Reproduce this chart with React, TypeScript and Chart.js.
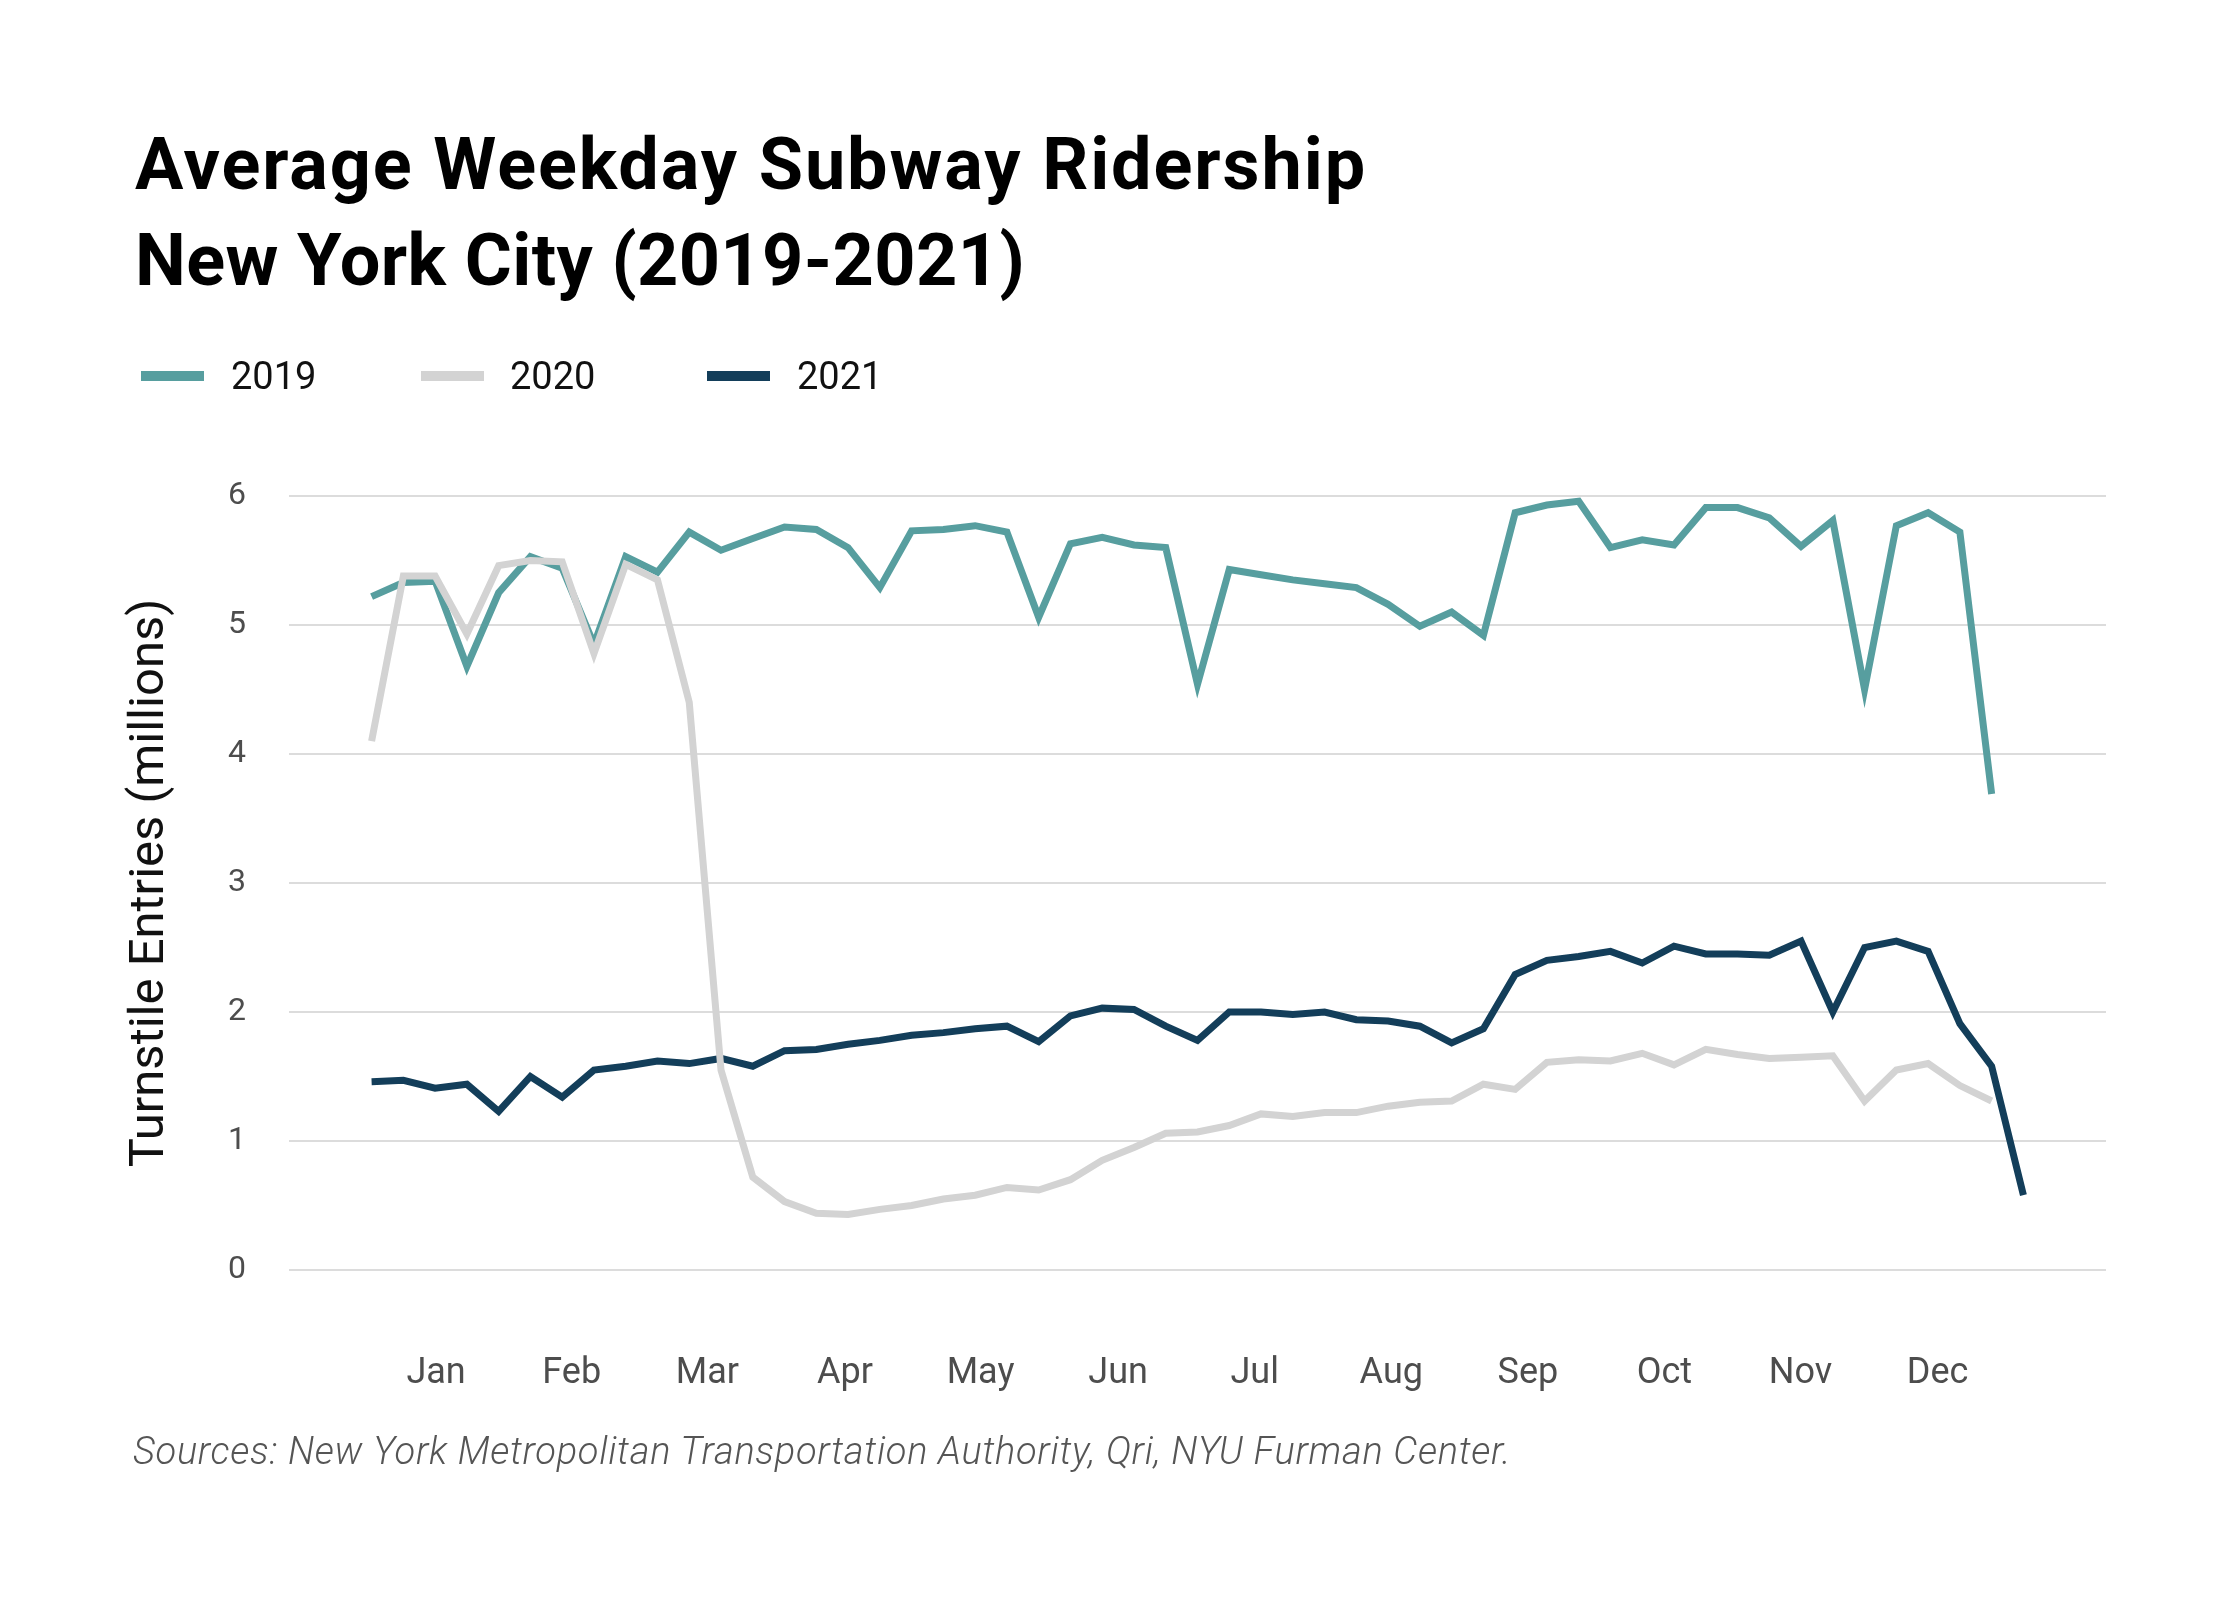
import React, { useEffect, useRef } from "react";
import { Chart, registerables } from "chart.js";

Chart.register(...registerables);

// ---- data (weekly average weekday subway ridership, millions) ----
const seriesNames = ["2019", "2020", "2021"];
const seriesColors = ["#579E9F", "#D3D3D3", "#133E5A"];

const ridership2019 = [
  5.22, 5.33, 5.34, 4.68, 5.25, 5.53, 5.44, 4.85, 5.53, 5.41,
  5.72, 5.58, 5.67, 5.76, 5.74, 5.60, 5.29, 5.73, 5.74, 5.77,
  5.72, 5.06, 5.63, 5.68, 5.62, 5.60, 4.54, 5.43, 5.39, 5.35,
  5.32, 5.29, 5.16, 4.99, 5.10, 4.92, 5.87, 5.93, 5.96, 5.60,
  5.66, 5.62, 5.91, 5.91, 5.83, 5.61, 5.81, 4.50, 5.77, 5.87,
  5.72, 3.69,
];

const ridership2020 = [
  4.10, 5.38, 5.38, 4.93, 5.46, 5.50, 5.49, 4.78, 5.47, 5.35,
  4.40, 1.55, 0.72, 0.53, 0.44, 0.43, 0.47, 0.50, 0.55, 0.58,
  0.64, 0.62, 0.70, 0.85, 0.95, 1.06, 1.07, 1.12, 1.21, 1.19,
  1.22, 1.22, 1.27, 1.30, 1.31, 1.44, 1.40, 1.61, 1.63, 1.62,
  1.68, 1.59, 1.71, 1.67, 1.64, 1.65, 1.66, 1.31, 1.55, 1.60,
  1.43, 1.31,
];

const ridership2021 = [
  1.46, 1.47, 1.41, 1.44, 1.23, 1.50, 1.34, 1.55, 1.58, 1.62,
  1.60, 1.64, 1.58, 1.70, 1.71, 1.75, 1.78, 1.82, 1.84, 1.87,
  1.89, 1.77, 1.97, 2.03, 2.02, 1.89, 1.78, 2.00, 2.00, 1.98,
  2.00, 1.94, 1.93, 1.89, 1.76, 1.87, 2.29, 2.40, 2.43, 2.47,
  2.38, 2.51, 2.45, 2.45, 2.44, 2.55, 2.00, 2.50, 2.55, 2.47,
  1.91, 1.58, 0.58,
];

const monthLabels = ["Jan", "Feb", "Mar", "Apr", "May", "Jun", "Jul", "Aug", "Sep", "Oct", "Nov", "Dec"];
// month label positions, in week-of-year units
const monthTickWeeks = [3.03, 7.3, 11.57, 15.9, 20.17, 24.5, 28.8, 33.1, 37.4, 41.7, 45.98, 50.3];
const yTickValues = [0, 1, 2, 3, 4, 5, 6];

const titleLines = ["Average Weekday Subway Ridership", "New York City (2019-2021)"];
const yAxisTitle = "Turnstile Entries (millions)";
const sourceText = "Sources: New York Metropolitan Transportation Authority, Qri, NYU Furman Center.";

const toPoints = (vals: number[]) => vals.map((v, i) => ({ x: i + 1, y: v }));

const W = 2240;
const H = 1600;

export default function App() {
  const canvasRef = useRef<HTMLCanvasElement | null>(null);

  useEffect(() => {
    const canvas = canvasRef.current;
    if (!canvas) return;
    const allSeries = [ridership2019, ridership2020, ridership2021];
    const drawOrder = [1, 0, 2];
    const chart = new Chart(canvas, {
      type: "line",
      data: {
        datasets: allSeries.map((vals, i) => ({
          label: seriesNames[i],
          data: toPoints(vals),
          borderColor: seriesColors[i],
          backgroundColor: seriesColors[i],
          borderWidth: 7,
          pointRadius: 0,
          tension: 0,
          fill: false,
          order: drawOrder[i],
        })),
      },
      options: {
        animation: false,
        responsive: false,
        maintainAspectRatio: false,
        devicePixelRatio: 1,
        layout: { padding: { top: 496, right: 134, bottom: 0, left: 0 } },
        plugins: {
          legend: { display: false },
          tooltip: { enabled: false },
          title: { display: false },
        },
        scales: {
          x: {
            type: "linear",
            min: -1.6,
            max: 55.6,
            afterBuildTicks: (scale: any) => {
              scale.ticks = monthTickWeeks.map((v) => ({ value: v }));
            },
            afterFit: (scale: any) => {
              scale.height = 330;
            },
            grid: { display: false, drawTicks: false },
            border: { display: false },
            ticks: {
              autoSkip: false,
              maxRotation: 0,
              padding: 82,
              color: "#4d4d4d",
              font: { family: "Roboto", size: 36 },
              callback: (_v: any, i: number) => monthLabels[i],
            },
          },
          y: {
            type: "linear",
            min: 0,
            max: 6,
            afterBuildTicks: (scale: any) => {
              scale.ticks = yTickValues.map((v) => ({ value: v }));
            },
            afterFit: (scale: any) => {
              scale.width = 289;
            },
            grid: { color: "#dcdcdc", lineWidth: 2, drawTicks: false },
            border: { display: false },
            ticks: {
              padding: 43,
              color: "#4d4d4d",
              font: { family: "Roboto", size: 32 },
              callback: (v: any) => String(v),
            },
            title: {
              display: true,
              text: yAxisTitle,
              color: "#111111",
              font: { family: "Roboto", size: 49 },
              padding: { top: 121, bottom: 0 },
            },
          },
        },
      },
    } as any);
    return () => chart.destroy();
  }, []);

  const legendSwatchX = [141, 421, 707];
  const legendLabelX = [231, 510, 797];
  const titleLetterSpacing = ["1.9px", "0.4px"];

  return (
    <div
      style={{
        position: "absolute",
        left: 0,
        top: 0,
        width: W,
        height: H,
        background: "#ffffff",
        overflow: "hidden",
        fontFamily: "Roboto, sans-serif",
      }}
    >
      <canvas
        ref={canvasRef}
        width={W}
        height={H}
        style={{ position: "absolute", left: 0, top: 0, width: W, height: H }}
      />
      <div
        style={{
          position: "absolute",
          left: 135,
          top: 117,
          fontSize: 72,
          lineHeight: "96px",
          fontWeight: 700,
          color: "#000",
          whiteSpace: "nowrap",
        }}
      >
        {titleLines.map((t, i) => (
          <div key={t} style={{ letterSpacing: titleLetterSpacing[i] }}>
            {t}
          </div>
        ))}
      </div>
      {seriesNames.map((name, i) => (
        <React.Fragment key={name}>
          <div
            style={{
              position: "absolute",
              left: legendSwatchX[i],
              top: 371,
              width: 63,
              height: 10,
              background: seriesColors[i],
            }}
          />
          <div
            style={{
              position: "absolute",
              left: legendLabelX[i],
              top: 357,
              fontSize: 38,
              lineHeight: "38px",
              color: "#111",
              whiteSpace: "nowrap",
            }}
          >
            {name}
          </div>
        </React.Fragment>
      ))}
      <div
        style={{
          position: "absolute",
          left: 133,
          top: 1432,
          fontSize: 38,
          lineHeight: "38px",
          fontStyle: "italic",
          fontWeight: 300,
          letterSpacing: "0.7px",
          color: "#555555",
          whiteSpace: "nowrap",
        }}
      >
        {sourceText}
      </div>
    </div>
  );
}
